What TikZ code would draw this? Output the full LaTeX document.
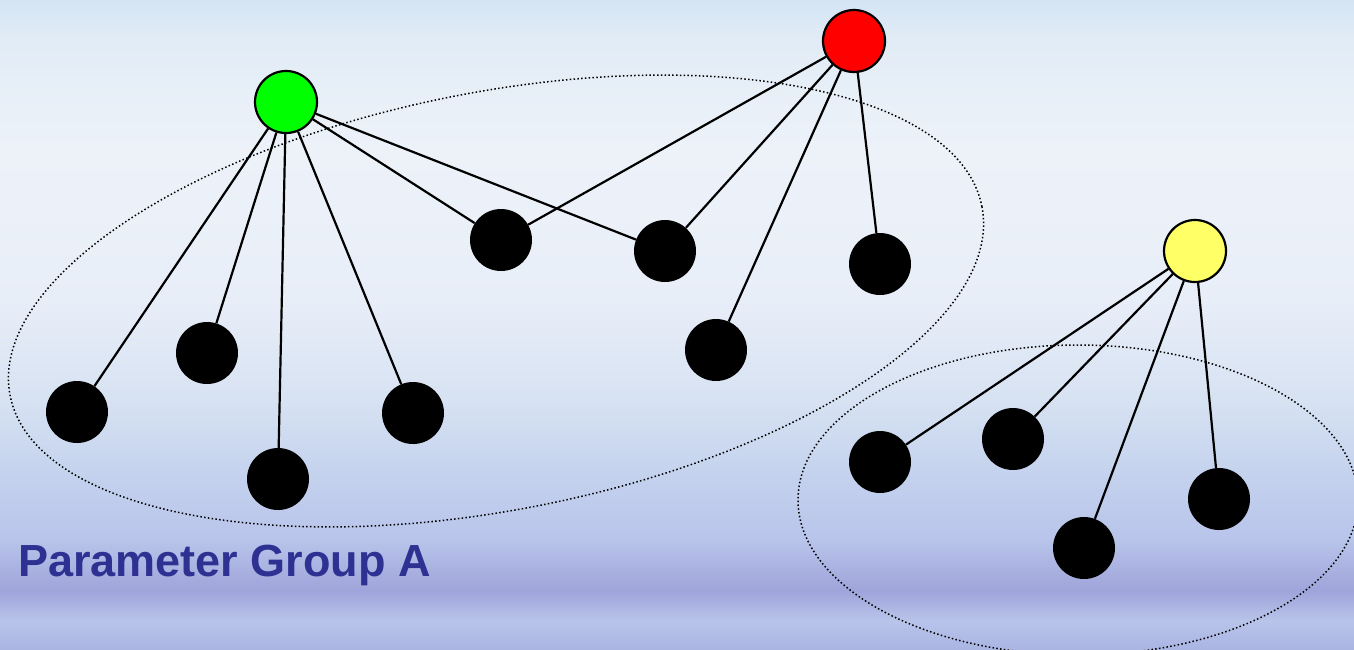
\documentclass[tikz,border=0pt]{standalone}
\usepackage{fontspec}
\setmainfont{Liberation Sans}
\definecolor{bgA}{RGB}{212,228,243}
\definecolor{bgB}{RGB}{226,236,246}
\definecolor{bgC}{RGB}{237,242,249}
\definecolor{bgD}{RGB}{232,238,248}
\definecolor{bgE}{RGB}{215,226,242}
\definecolor{bgF}{RGB}{197,211,238}
\definecolor{bgG}{RGB}{184,196,234}
\definecolor{bgH}{RGB}{159,164,218}
\definecolor{bgI}{RGB}{184,196,234}
\definecolor{bgJ}{RGB}{170,181,226}
\definecolor{labelblue}{RGB}{46,49,146}
\definecolor{nodeyellow}{RGB}{255,255,102}
\pgfdeclareverticalshading{bgshade}{100bp}{%
  color(0bp)=(bgJ); color(25bp)=(bgJ); color(27.2bp)=(bgI);
  color(29.5bp)=(bgH); color(33.4bp)=(bgG); color(38.8bp)=(bgF);
  color(44.2bp)=(bgE); color(51.9bp)=(bgD); color(63.4bp)=(bgC);
  color(71.9bp)=(bgB); color(75bp)=(bgA); color(100bp)=(bgA)}
\begin{document}
\begin{tikzpicture}[x=1pt,y=-1pt,
  leaf/.style={circle,fill=black,minimum size=62pt,inner sep=0pt},
  hub/.style={circle,draw=black,line width=2.2pt,minimum size=62pt,inner sep=0pt},
  link/.style={draw=black,line width=2.2pt},
  group/.style={draw=black,line width=1.5pt,dash pattern=on 1.5pt off 2.3pt}]
\useasboundingbox (0,0) rectangle (1354,649);
\shade[shading=bgshade] (0,0) rectangle (1354,649);
% groups
\draw[group] (496,301) ellipse [x radius=495, y radius=209, rotate=11];
\draw[group] (1078,500) ellipse [x radius=280, y radius=155];
% hubs
\node[hub,fill=green] (g) at (286,102) {};
\node[hub,fill=red] (r) at (854,41) {};
\node[hub,fill=nodeyellow] (y) at (1195,251) {};
% leaves
\node[leaf] (n1) at (77,412) {};
\node[leaf] (n2) at (207,353) {};
\node[leaf] (n3) at (278,479) {};
\node[leaf] (n4) at (413,413) {};
\node[leaf] (n5) at (501,240) {};
\node[leaf] (n6) at (665,251) {};
\node[leaf] (n7) at (716,350) {};
\node[leaf] (n8) at (880,264) {};
\node[leaf] (n9) at (880,462) {};
\node[leaf] (n10) at (1013,439) {};
\node[leaf] (n11) at (1084,548) {};
\node[leaf] (n12) at (1219,499) {};
% links
\foreach \t in {n1,n2,n3,n4,n5,n6} \draw[link] (g) -- (\t);
\foreach \t in {n5,n6,n7,n8} \draw[link] (r) -- (\t);
\foreach \t in {n9,n10,n11,n12} \draw[link] (y) -- (\t);
% label
\node[anchor=base west,inner sep=0pt,text=labelblue,font=\fontsize{45}{54}\selectfont\bfseries] (lbl) at (18,576) {Parameter Group A};
\end{tikzpicture}
\end{document}
